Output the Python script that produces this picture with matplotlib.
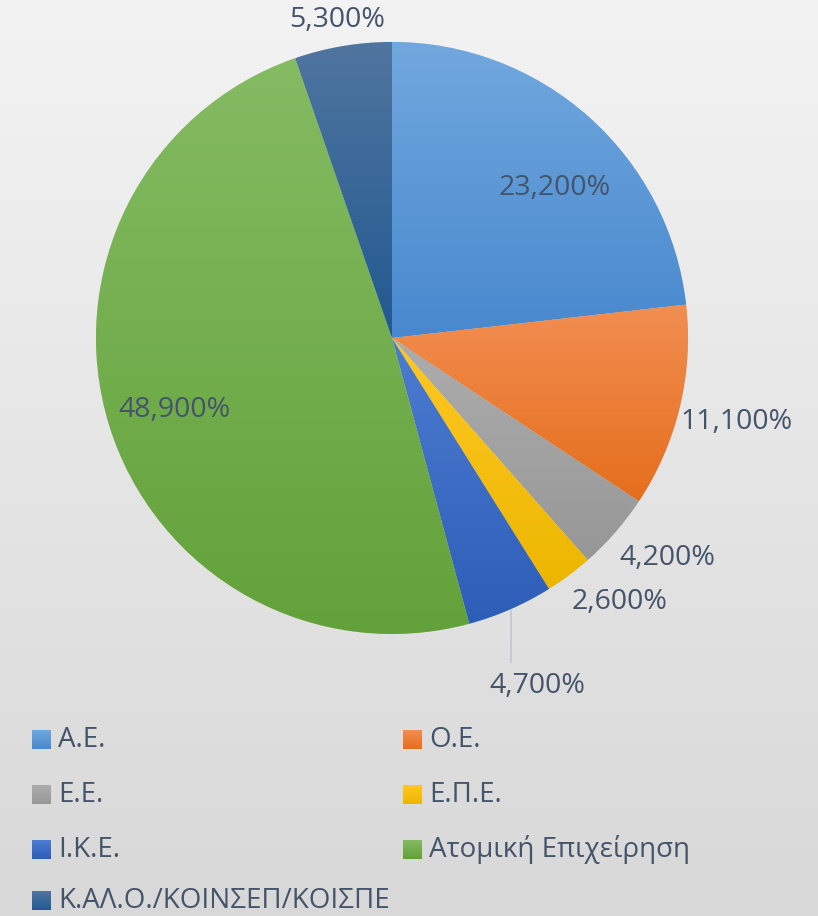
import numpy as np
import matplotlib
matplotlib.use("Agg")
import matplotlib.pyplot as plt
from matplotlib.colors import to_rgb

plt.rcParams['font.family'] = ['Open Sans', 'DejaVu Sans']

# data
categories = ["Α.Ε.", "Ο.Ε.", "Ε.Ε.", "Ε.Π.Ε.", "Ι.Κ.Ε.", "Ατομική Επιχείρηση",
              "Κ.ΑΛ.Ο./ΚΟΙΝΣΕΠ/ΚΟΙΣΠΕ"]
shares = [23.2, 11.1, 4.2, 2.6, 4.7, 48.9, 5.3]
labels = ["23,200%", "11,100%", "4,200%", "2,600%", "4,700%", "48,900%", "5,300%"]

# styles: gradient top / bottom per slice
tops = ['#71A8DE', '#F28E52', '#ADADAD', '#FFC824', '#4C7DD1', '#85BB63', '#50759F']
bottoms = ['#4888CE', '#E56E1C', '#979797', '#ECB600', '#2D5DB7', '#62A139', '#215991']
# label positions (pixels from top-left)
label_pos = [(555, 188), (737, 422), (667, 558), (620, 602), (537, 686), (174, 410), (337, 20)]

W, H = 818, 916
txt = '#44546A'

fig = plt.figure(figsize=(W / 100, H / 100), dpi=100)
ax = fig.add_axes([0, 0, 1, 1])
ax.set_axis_off()


def grad(c1, c2, n=256):
    a, b = np.array(to_rgb(c1)), np.array(to_rgb(c2))
    t = np.linspace(0, 1, n)[:, None]
    return (a * (1 - t) + b * t)[:, None, :]


# background
ax.imshow(grad('#F3F3F3', '#D8D8D8'), extent=[0, W, 0, H], aspect='auto', zorder=0)

wedges, _ = ax.pie(shares, center=(392, H - 338), radius=296, startangle=90,
                   counterclock=False, colors=bottoms,
                   wedgeprops=dict(linewidth=0.5, edgecolor='#E6E6E6'))
for w, c1, c2 in zip(wedges, tops, bottoms):
    v = w.get_path().vertices
    x0, x1 = v[:, 0].min(), v[:, 0].max()
    y0, y1 = v[:, 1].min(), v[:, 1].max()
    im = ax.imshow(grad(c1, c2), extent=[x0, x1, y0, y1], aspect='auto', zorder=w.get_zorder() + 0.1)
    im.set_clip_path(w)

for lab, (x, y) in zip(labels, label_pos):
    ax.text(x, H - y, lab, ha='center', va='center', fontsize=20.5, color=txt, zorder=5)

# leader line for the small slice
ax.plot([511, 511], [H - 611, H - 662], color='#BFC8D6', lw=1.3, zorder=4)

# legend, row-major in two columns
col_x = [32, 403]
row_y = [740, 795, 850, 901]
sw = 19
for i, (name, c1, c2) in enumerate(zip(categories, tops, bottoms)):
    x = col_x[i % 2]
    y = row_y[i // 2]
    ax.imshow(grad(c1, c2), extent=[x, x + sw, H - y - sw / 2, H - y + sw / 2],
              aspect='auto', zorder=5)
    ax.text(x + sw + 7, H - y, name, ha='left', va='center', fontsize=20, color=txt, zorder=5)

ax.set_xlim(0, W)
ax.set_ylim(0, H)
fig.savefig("out.png", dpi=100)
